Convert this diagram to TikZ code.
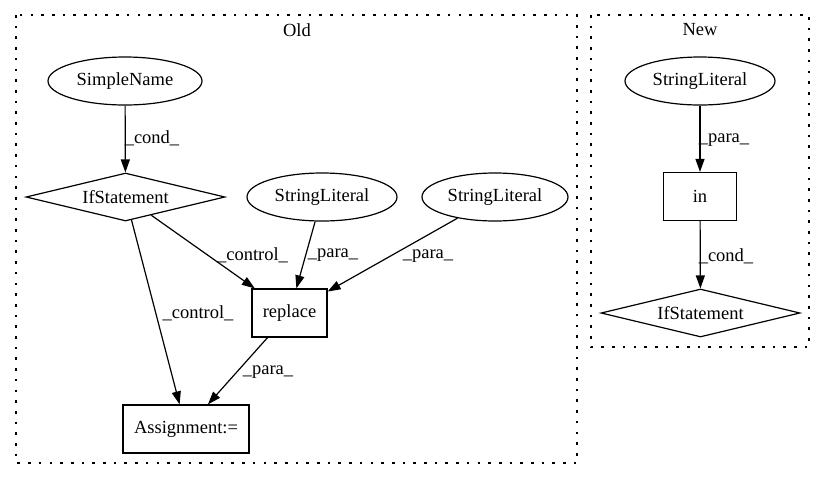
\documentclass[tikz,border=0pt]{standalone}
\usepackage{fontspec}
\setmainfont{Liberation Serif}
\usetikzlibrary{shapes.geometric,arrows.meta}
\begin{document}
\begin{tikzpicture}[x=1pt,y=-1pt,
  every node/.style={font=\fontsize{18.5}{22}\selectfont},
  ellnode/.style={draw, ellipse, line width=1.2pt, inner sep=0pt, minimum width=#1, minimum height=48pt},
  boxnode/.style={draw, rectangle, line width=1.2pt, inner sep=0pt, minimum width=#1, minimum height=48pt},
  dianode/.style={draw, diamond, aspect=4.1, line width=1.2pt, inner sep=0pt, minimum width=199pt, minimum height=48pt},
  edgeline/.style={line width=1.2pt, -{Triangle[length=13pt,width=9pt]}},
  lbl/.style={inner sep=0pt},
  cluster/.style={line width=1.3pt, dash pattern=on 2.6pt off 8.1pt}
]
\useasboundingbox (0,0) rectangle (825,480);

% clusters
\draw[cluster] (16,15) rectangle (577,463);
\node[lbl] (oldlbl) at (297,30) {Old};
\draw[cluster] (591,15) rectangle (809,347);
\node[lbl] (newlbl) at (700,30) {New};

% Old nodes
\node[ellnode=154pt] (sn) at (125,81) {SimpleName};
\node[dianode] (if1) at (125.5,197) {IfStatement};
\node[ellnode=150pt] (sl1) at (322,197) {StringLiteral};
\node[ellnode=146pt] (sl2) at (495,197) {StringLiteral};
\node[boxnode=75pt] (rep) at (289.5,313) {replace};
\node[boxnode=126pt] (asg) at (186,429) {Assignment:=};

% New nodes
\node[ellnode=150pt] (nsl) at (700,81) {StringLiteral};
\node[boxnode=73pt] (inb) at (700,196.5) {in};
\node[dianode] (if2) at (700.5,313) {IfStatement};

% Old edges
\draw[edgeline] (sn) -- (if1);
\draw[edgeline] (if1) -- (rep);
\draw[edgeline] (if1) -- (asg);
\draw[edgeline] (sl1) -- (rep);
\draw[edgeline] (sl2) -- (rep);
\draw[edgeline] (rep) -- (asg);

% New edges
\draw[edgeline] (nsl) -- (inb);
\draw[edgeline] (inb) -- (if2);

% edge labels
\node[lbl] (l1) at (152,138) {\_cond\_};
\node[lbl] (l2) at (252.5,255) {\_control\_};
\node[lbl] (l3) at (333,255) {\_para\_};
\node[lbl] (l4) at (428,256) {\_para\_};
\node[lbl] (l5) at (198,313) {\_control\_};
\node[lbl] (l6) at (268,372) {\_para\_};
\node[lbl] (l7) at (724,140) {\_para\_};
\node[lbl] (l8) at (726,256) {\_cond\_};
\end{tikzpicture}
\end{document}
